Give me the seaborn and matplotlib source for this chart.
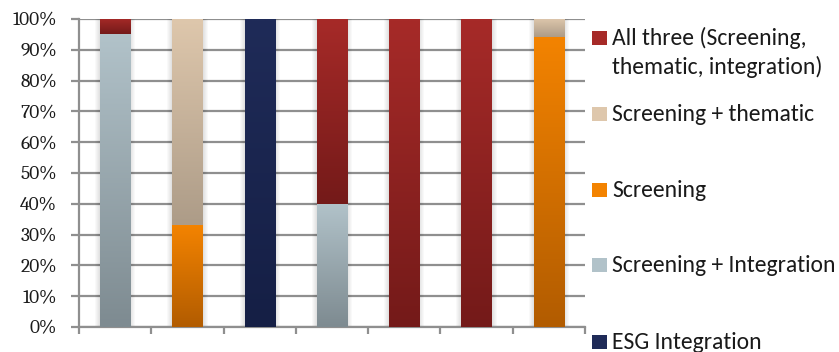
import numpy as np
import pandas as pd
import matplotlib
matplotlib.use("Agg")
import matplotlib.pyplot as plt
import seaborn as sns
from matplotlib.colors import to_rgb
from matplotlib.patches import Rectangle
from matplotlib import font_manager as fm

# Share of each strategy per fund (percent)
categories = ["Fund A", "Fund B", "Fund C", "Fund D", "Fund E", "Fund F", "Fund G"]
all_three = [5, 0, 0, 60, 100, 100, 0]
screening_thematic = [0, 67, 0, 0, 0, 0, 6]
screening = [0, 33, 0, 0, 0, 0, 94]
screening_integration = [95, 0, 0, 40, 0, 0, 0]
esg_integration = [0, 0, 100, 0, 0, 0, 0]

strategy_labels = [
    "All three (Screening,\nthematic, integration)",
    "Screening + thematic",
    "Screening",
    "Screening + Integration",
    "ESG Integration",
]
strategy_values = [all_three, screening_thematic, screening,
                   screening_integration, esg_integration]
# (top, bottom) colours of each segment's vertical gradient
gradients = [
    ("#a62a28", "#741a19"),
    ("#dec7ac", "#ad9c88"),
    ("#f38300", "#b25c00"),
    ("#b1c2c9", "#7e8b91"),
    ("#1f2b58", "#151f45"),
]
base_colors = [g[0] for g in gradients]

rows = []
for label, vals in zip(strategy_labels, strategy_values):
    for cat, v in zip(categories, vals):
        rows.append({"fund": cat, "strategy": label, "share": v})
df = pd.DataFrame(rows)

# pick fonts: Calibri/Cambria metric twins when present
available = {f.name for f in fm.fontManager.ttflist}
if "Carlito" in available:
    legend_family, legend_size = "Carlito", 17
else:
    legend_family, legend_size = "Lato", 15.5
if "Caladea" in available:
    tick_family, tick_size = "Caladea", 14
else:
    tick_family, tick_size = "Liberation Serif", 14.5

sns.set_theme(style="white")
plt.rcParams["font.family"] = [tick_family, "DejaVu Serif"]
plt.rcParams["ytick.labelsize"] = tick_size
plt.rcParams["ytick.labelcolor"] = "#1a1a1a"

fig = plt.figure(figsize=(8.39, 3.52), dpi=100)
W, H = 839, 352
ax = fig.add_axes([79 / W, 1 - 327 / H, (585 - 79) / W, (327 - 19) / H])

sns.histplot(data=df, x="fund", weights="share", hue="strategy",
             hue_order=strategy_labels, palette=base_colors,
             multiple="stack", discrete=True, shrink=0.42, alpha=1,
             linewidth=0, legend=False, ax=ax)

grid_c = "#8f8f8f"

def grad_image(top, bottom, n=64):
    t = np.linspace(0, 1, n)[:, None]
    a = np.array(to_rgb(top))
    b = np.array(to_rgb(bottom))
    return (a * (1 - t) + b * t)[:, None, :]

color_lookup = {tuple(np.round(to_rgb(c), 3)): g for c, g in zip(base_colors, gradients)}

px = 7.0 / (585 - 79)
bar_spans = {}
for p in list(ax.patches):
    h = p.get_height()
    if h <= 0:
        continue
    x0, w, y0 = p.get_x(), p.get_width(), p.get_y()
    key = tuple(np.round(p.get_facecolor()[:3], 3))
    top, bottom = color_lookup[key]
    ax.imshow(grad_image(top, bottom), extent=[x0, x0 + w, y0, y0 + h],
              aspect="auto", interpolation="bilinear", zorder=3)
    lo, hi = bar_spans.get(x0, (x0 + w, 0))
    bar_spans[x0] = (x0 + w, max(hi, y0 + h))

# soft shadow around each bar
for x0, (x1, top) in bar_spans.items():
    for k in range(1, 6):
        d = k * px
        ax.add_patch(Rectangle((x0 - d, 0), (x1 - x0) + 2 * d, top,
                               facecolor="#000000", alpha=0.025,
                               linewidth=0, zorder=1.5))

ax.set_xlim(-0.5, len(categories) - 0.5)
ax.set_ylim(0, 100)
ax.set_xlabel("")
ax.set_ylabel("")
ax.yaxis.grid(True, color=grid_c, linewidth=1.6, zorder=1)
ax.set_axisbelow(True)
ax.tick_params(axis="y", length=6, width=1.6, color=grid_c, pad=10, left=True,
               labelfontfamily=tick_family, labelsize=tick_size)
ax.tick_params(axis="x", length=5, width=1.6, color=grid_c, bottom=True,
               direction="out")
ax.set_xticks(np.arange(-0.5, len(categories), 1.0))
ax.set_xticklabels([])
ax.set_yticks(np.arange(0, 101, 10))
ax.set_yticklabels([f"{v}%" for v in range(0, 101, 10)])
for s in ["top", "right"]:
    ax.spines[s].set_visible(False)
for s in ["left", "bottom"]:
    ax.spines[s].set_color(grid_c)
    ax.spines[s].set_linewidth(1.6)

# legend beside the plot: swatch, then label lines on fixed baselines
legend_y = [37.6, 114, 190, 265, 342]
line_step = 29.5
for label, (top, bottom), yc in zip(strategy_labels, gradients, legend_y):
    sq = 14
    fig.add_artist(Rectangle((592 / W, 1 - (yc + sq / 2) / H), 15 / W, sq / H,
                             facecolor=top, edgecolor="none",
                             transform=fig.transFigure))
    for i, line in enumerate(label.split("\n")):
        fig.text(612 / W, 1 - (yc + 7 + i * line_step) / H, line,
                 fontfamily=legend_family, fontsize=legend_size,
                 color="#1a1a1a", va="baseline", ha="left")

# pin the percentage labels to the serif font file
fig.canvas.draw()
serif_file = fm.findfont(fm.FontProperties(family=tick_family))
for t in ax.get_yticklabels():
    t.set_fontproperties(fm.FontProperties(fname=serif_file, size=tick_size))
    t.set_color("#1a1a1a")

fig.savefig("out.png", dpi=100)
